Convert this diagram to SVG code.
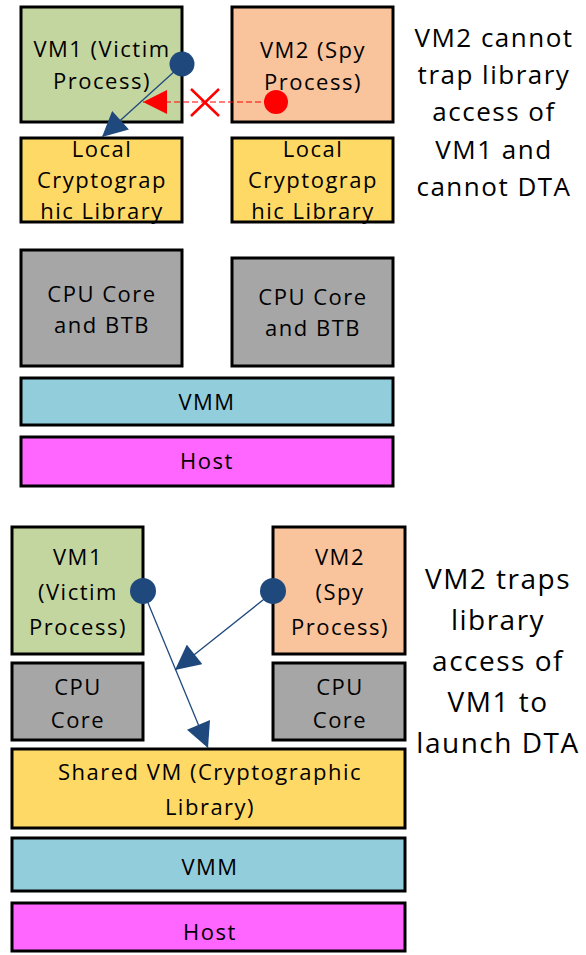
<svg xmlns="http://www.w3.org/2000/svg" width="586" height="955" viewBox="0 0 586 955">
<style>
.b{stroke:#000;stroke-width:3}
.t{font-family:"Open Sans","Liberation Sans",sans-serif;font-size:22px;letter-spacing:1.5px;text-anchor:middle;fill:#000}
.r{font-family:"Open Sans","Liberation Sans",sans-serif;text-anchor:middle;fill:#000;letter-spacing:1.5px}
.g{fill:#C4D6A0}.o{fill:#F9C39C}.y{fill:#FFD966}.c{fill:#A6A6A6}.v{fill:#92CDDC}.h{fill:#FF66FF}
.bl{stroke:#1F497D;stroke-width:1.3;fill:none}
</style>
<defs>
<marker id="ab" viewBox="0 0 10 10" refX="10" refY="5" markerWidth="26" markerHeight="25" markerUnits="userSpaceOnUse" orient="auto"><path d="M0,0L10,5L0,10z" fill="#1F497D"/></marker>
<marker id="ar" viewBox="0 0 10 10" refX="10" refY="5" markerWidth="25" markerHeight="24" markerUnits="userSpaceOnUse" orient="auto"><path d="M0,0L10,5L0,10z" fill="#FF0000"/></marker>
</defs>
<g id="top-vm1"><rect class="b g" x="21" y="7" width="161" height="115"/><text class="t" x="102" y="57">VM1 (Victim</text><text class="t" x="102" y="89">Process)</text></g>
<g id="top-vm2"><rect class="b o" x="232" y="7" width="161" height="115"/><text class="t" x="313" y="58">VM2 (Spy</text><text class="t" x="313" y="90">Process)</text></g>
<g id="top-lib1"><rect class="b y" x="21" y="138" width="161" height="84"/><text class="t" x="102" y="157">Local</text><text class="t" x="102" y="188">Cryptograp</text><text class="t" x="102" y="219">hic Library</text></g>
<g id="top-lib2"><rect class="b y" x="232" y="138" width="161" height="84"/><text class="t" x="313" y="157">Local</text><text class="t" x="313" y="188">Cryptograp</text><text class="t" x="313" y="219">hic Library</text></g>
<g id="top-cpu1"><rect class="b c" x="21" y="250" width="161" height="116"/><text class="t" x="102" y="302">CPU Core</text><text class="t" x="102" y="333">and BTB</text></g>
<g id="top-cpu2"><rect class="b c" x="232" y="258" width="161" height="108"/><text class="t" x="313" y="305">CPU Core</text><text class="t" x="313" y="336">and BTB</text></g>
<g id="top-vmm"><rect class="b v" x="21" y="378" width="372" height="47"/><text class="t" x="207" y="410">VMM</text></g>
<g id="top-host"><rect class="b h" x="21" y="437" width="372" height="49"/><text class="t" x="207" y="469">Host</text></g>
<g id="top-caption"><text class="r" font-size="26" x="494" y="47">VM2 cannot</text><text class="r" font-size="26" x="494" y="84">trap library</text><text class="r" font-size="26" x="494" y="121">access of</text><text class="r" font-size="26" x="494" y="159">VM1 and</text><text class="r" font-size="26" x="494" y="196">cannot DTA</text></g>
<g id="bot-vm1"><rect class="b g" x="12" y="527" width="131" height="127"/><text class="t" x="78" y="565">VM1</text><text class="t" x="78" y="600">(Victim</text><text class="t" x="78" y="635">Process)</text></g>
<g id="bot-vm2"><rect class="b o" x="273" y="527" width="132" height="127"/><text class="t" x="340" y="565">VM2</text><text class="t" x="340" y="600">(Spy</text><text class="t" x="340" y="635">Process)</text></g>
<g id="bot-cpu1"><rect class="b c" x="12" y="663" width="131" height="77"/><text class="t" x="78" y="695">CPU</text><text class="t" x="78" y="728">Core</text></g>
<g id="bot-cpu2"><rect class="b c" x="273" y="663" width="132" height="77"/><text class="t" x="340" y="695">CPU</text><text class="t" x="340" y="728">Core</text></g>
<g id="bot-shared"><rect class="b y" x="12" y="749" width="393" height="79"/><text class="t" x="210" y="780">Shared VM (Cryptographic</text><text class="t" x="210" y="815">Library)</text></g>
<g id="bot-vmm"><rect class="b v" x="12" y="838" width="393" height="53"/><text class="t" x="210" y="875">VMM</text></g>
<g id="bot-host"><rect class="b h" x="12" y="903" width="393" height="48"/><text class="t" x="210" y="940">Host</text></g>
<g id="bot-caption"><text class="r" font-size="28" x="498" y="589">VM2 traps</text><text class="r" font-size="28" x="498" y="630">library</text><text class="r" font-size="28" x="498" y="671">access of</text><text class="r" font-size="28" x="498" y="712">VM1 to</text><text class="r" font-size="28" x="498" y="753">launch DTA</text></g>
<g id="connectors">
<line class="bl" x1="176" y1="70" x2="102" y2="137" marker-end="url(#ab)"/>
<circle cx="182" cy="64" r="12.5" fill="#1F497D"/>
<line x1="270" y1="102" x2="143" y2="102" stroke="#FF0000" stroke-width="1.2" stroke-dasharray="6,3" marker-end="url(#ar)"/>
<circle cx="276" cy="102" r="12" fill="#FF0000"/>
<path d="M191,89L219,116M191,116L219,89" stroke="#FF0000" stroke-width="2.5" fill="none"/>
<line class="bl" x1="146" y1="598" x2="208" y2="748" marker-end="url(#ab)"/>
<line class="bl" x1="268" y1="596" x2="175" y2="670" marker-end="url(#ab)"/>
<circle cx="143" cy="591" r="13" fill="#1F497D"/>
<circle cx="273" cy="591" r="13" fill="#1F497D"/>
</g>
</svg>
